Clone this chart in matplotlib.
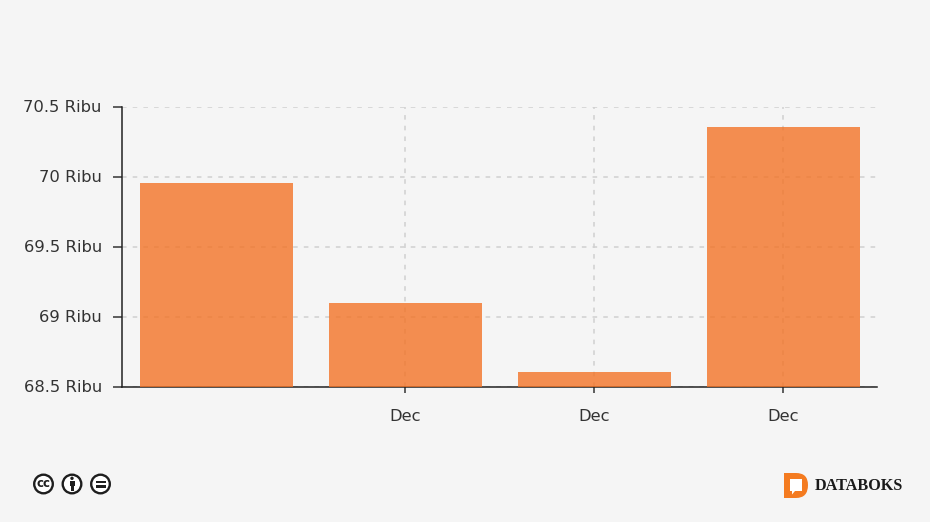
import matplotlib
matplotlib.use("Agg")
import matplotlib.pyplot as plt
from matplotlib.patches import Circle, Rectangle, PathPatch, Polygon
from matplotlib.path import Path
from matplotlib.transforms import ScaledTranslation

# values
positions = [0, 1, 2, 3]
values = [69.957, 69.10, 68.607, 70.357]
x_ticks = [1, 2, 3]
x_labels = ["Dec", "Dec", "Dec"]
y_ticks = [68.5, 69, 69.5, 70, 70.5]
y_labels = ["68.5 Ribu", "69 Ribu", "69.5 Ribu", "70 Ribu", "70.5 Ribu"]

BG = "#F5F5F5"
BAR = "#F37021"
W, H = 930, 522

fig = plt.figure(figsize=(W/100., H/100.), dpi=100, facecolor=BG)
ax = fig.add_axes([122./W, 1-387./H, 755./W, 280./H], facecolor=BG)

# bars are see-through, the grid shows faintly behind them
ax.bar(positions, values, width=0.806, color=BAR, alpha=0.78, zorder=3)
ax.set_xlim(-0.5, 3.495)
ax.set_ylim(68.5, 70.5)

ax.set_xticks(x_ticks)
ax.set_xticklabels(x_labels)
ax.set_yticks(y_ticks)
ax.set_yticklabels(y_labels)
ax.tick_params(axis="x", length=4.5, width=1.1, color="#333333", labelcolor="#333333",
               labelsize=11.8, pad=11)
ax.tick_params(axis="y", length=6.5, width=1.1, color="#333333", labelcolor="#333333",
               labelsize=11.8, pad=8)
# y labels sit a pixel above their ticks
up = ScaledTranslation(0, 1./100, fig.dpi_scale_trans)
for lab in ax.get_yticklabels():
    lab.set_transform(lab.get_transform() + up)
ax.grid(True, color="#D0D0D0", linestyle=(0, (3, 4)), linewidth=1.1, zorder=1)
ax.set_axisbelow(True)

for side in ["top", "right"]:
    ax.spines[side].set_visible(False)
for side in ["left", "bottom"]:
    ax.spines[side].set_color("#222222")
    ax.spines[side].set_linewidth(1.1)

# footer overlay in pixel coordinates, y going down
ov = fig.add_axes([0, 0, 1, 1], facecolor="none")
ov.set_xlim(0, W)
ov.set_ylim(H, 0)
ov.axis("off")

DARK = "#1E1E1E"
for cx in [43.5, 72, 100.5]:
    ov.add_patch(Circle((cx, 484), 9.3, facecolor="white", edgecolor=DARK, linewidth=1.7))

# cc
ov.text(43.5, 483.5, "cc", fontsize=8.5, fontweight="bold", color=DARK, ha="center",
        va="center", family="DejaVu Sans")
# person
ov.add_patch(Circle((72, 478.3), 1.7, facecolor=DARK, edgecolor="none"))
ov.add_patch(Rectangle((69.5, 481), 5, 5, facecolor=DARK, edgecolor="none"))
ov.add_patch(Rectangle((70.5, 486), 3, 5, facecolor=DARK, edgecolor="none"))
# equals
ov.add_patch(Rectangle((95.5, 480.5), 10, 2.3, facecolor=DARK, edgecolor="none"))
ov.add_patch(Rectangle((95.5, 485.2), 10, 2.3, facecolor=DARK, edgecolor="none"))

# databoks logo
ORANGE = "#F47B20"
d_verts = [(784, 473), (796, 473), (808, 473), (808, 485), (808, 498), (796, 498), (784, 498), (784, 473)]
d_codes = [Path.MOVETO, Path.LINETO, Path.CURVE3, Path.LINETO, Path.CURVE3, Path.LINETO, Path.LINETO, Path.CLOSEPOLY]
ov.add_patch(PathPatch(Path(d_verts, d_codes), facecolor=ORANGE, edgecolor="none"))
ov.add_patch(Polygon([(790, 479), (802, 479), (802, 491), (795, 491), (792, 494.5), (792, 491), (790, 491)],
                     closed=True, facecolor="white", edgecolor="none"))
ov.text(815, 485.5, "DATABOKS", fontsize=11.7, fontweight="bold", color="#1A1A1A", ha="left",
        va="center", family="Liberation Serif")

fig.savefig("out.png", dpi=100, facecolor=BG)
